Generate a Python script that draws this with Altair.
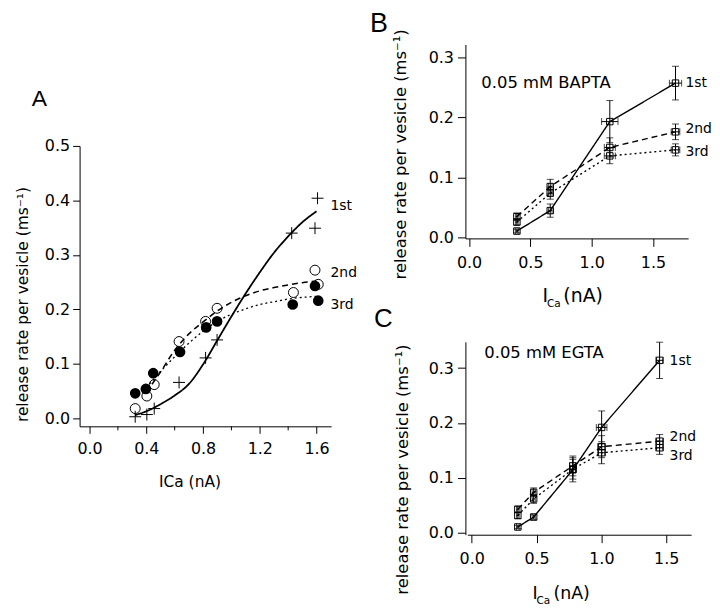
import altair as alt
import pandas as pd

FONT = "DejaVu Sans"
LFONT = "Liberation Sans"
series = ["1st", "2nd", "3rd"]

# ---------------- Panel A data ----------------
a_x1 = [0.322, 0.404, 0.456, 0.631, 0.818, 0.899, 1.425, 1.607, 1.589]
a_y1 = [0.003, 0.007, 0.018, 0.066, 0.111, 0.144, 0.340, 0.404, 0.349]
a_x2 = [0.322, 0.404, 0.456, 0.631, 0.818, 0.899, 1.437, 1.589, 1.612]
a_y2 = [0.018, 0.041, 0.062, 0.141, 0.178, 0.202, 0.231, 0.272, 0.246]
a_x3 = [0.322, 0.397, 0.449, 0.638, 0.822, 0.899, 1.432, 1.589, 1.612]
a_y3 = [0.046, 0.054, 0.083, 0.122, 0.167, 0.178, 0.209, 0.243, 0.216]
a_fit_x1 = [0.32, 0.40, 0.50, 0.60, 0.70, 0.80, 0.90, 1.00, 1.10, 1.20, 1.30, 1.40, 1.50, 1.60]
a_fit_y1 = [0.006, 0.013, 0.026, 0.042, 0.063, 0.099, 0.143, 0.187, 0.229, 0.268, 0.304, 0.334, 0.360, 0.380]
a_fit_x23 = [0.40, 0.50, 0.60, 0.70, 0.80, 0.90, 1.00, 1.10, 1.20, 1.30, 1.40, 1.50, 1.60]
a_fit_y2 = [0.048, 0.085, 0.125, 0.155, 0.177, 0.197, 0.213, 0.225, 0.234, 0.240, 0.245, 0.249, 0.252]
a_fit_y3 = [0.056, 0.086, 0.113, 0.138, 0.160, 0.178, 0.191, 0.201, 0.209, 0.214, 0.219, 0.222, 0.224]
a_label_y = [0.389, 0.266, 0.208]
a_x_ticks = [0.0, 0.4, 0.8, 1.2, 1.6]
a_x_minor = [0.2, 0.6, 1.0, 1.4]
a_y_ticks = [0.0, 0.1, 0.2, 0.3, 0.4, 0.5]

# ---------------- Panel B data (0.05 mM BAPTA) ----------------
b_x = [0.390, 0.662, 1.148, 1.684]
b_y = {"1st": [0.011, 0.045, 0.193, 0.257],
       "2nd": [0.035, 0.085, 0.150, 0.176],
       "3rd": [0.026, 0.074, 0.136, 0.146]}
b_ey = {"1st": [0.003, 0.011, 0.035, 0.028],
        "2nd": [0.006, 0.012, 0.016, 0.013],
        "3rd": [0.005, 0.010, 0.013, 0.010]}
b_ex = {"1st": [0.010, 0.015, 0.067, 0.050],
        "2nd": [0.010, 0.015, 0.045, 0.035],
        "3rd": [0.010, 0.015, 0.045, 0.035]}
b_label_y = [0.257, 0.181, 0.143]
b_x_ticks = [0.0, 0.5, 1.0, 1.5]
b_y_ticks = [0.0, 0.1, 0.2, 0.3]

# ---------------- Panel C data (0.05 mM EGTA) ----------------
c_x = [0.356, 0.478, 0.780, 1.002, 1.449]
c_y = {"1st": [0.011, 0.029, 0.115, 0.192, 0.314],
       "2nd": [0.043, 0.074, 0.122, 0.157, 0.167],
       "3rd": [0.032, 0.062, 0.116, 0.146, 0.155]}
c_ey = {"1st": [0.003, 0.004, 0.022, 0.030, 0.033],
        "2nd": [0.006, 0.008, 0.018, 0.020, 0.012],
        "3rd": [0.006, 0.008, 0.018, 0.020, 0.012]}
c_ex = {"1st": [0.010, 0.012, 0.020, 0.041, 0.028],
        "2nd": [0.010, 0.012, 0.025, 0.030, 0.030],
        "3rd": [0.010, 0.012, 0.025, 0.030, 0.030]}
c_label_y = [0.313, 0.174, 0.140]
c_x_ticks = [0.0, 0.5, 1.0, 1.5]
c_y_ticks = [0.0, 0.1, 0.2, 0.3]

YTITLE = "release rate per vesicle (ms\u207b\u00b9)"

AX = dict(grid=False, domainColor="black", tickColor="black", labelColor="black",
          titleColor="black", labelFont=FONT, titleFont=FONT, titleFontWeight="normal",
          domainWidth=1, tickWidth=1)

one = pd.DataFrame({"k": [0]})
dash_scale = alt.Scale(domain=series, range=[[1, 0], [6, 4], [2, 3]])


def sc(dom, rng):
    return alt.Scale(domain=dom, range=rng, nice=False, zero=False)


def text_at(txt, x, y, size, font=FONT, align="left", baseline="alphabetic"):
    return alt.Chart(one).mark_text(text=txt, font=font, fontSize=size, align=align,
                                    baseline=baseline, color="black").encode(
        x=alt.value(x), y=alt.value(y))


# ================= Panel A =================
A_W, A_H = 253, 195          # layout box; the axes are drawn down to y=384
xsA = sc([-0.070, 1.703], [0, 253])
ysA = sc([-0.0146, 0.5], [384, 102])
axAx = alt.Axis(values=a_x_ticks, format=".1f", tickSize=7, labelPadding=7, labelFontSize=16,
                offset=189,
                title="ICa (nA)", titleFontSize=15.5, titleX=110.5, titleY=56,
                titleBaseline="middle", titleAlign="center", **AX)
axAy = alt.Axis(values=a_y_ticks, format=".1f", tickSize=7, labelPadding=3, labelFontSize=16,
                title=YTITLE, titleFontSize=15.5, titleAngle=270, titleX=-57, titleY=261,
                titleAlign="center", titleBaseline="middle", **AX)


def XA(f):
    return alt.X(f"{f}:Q", scale=xsA, axis=axAx)


def YA(f):
    return alt.Y(f"{f}:Q", scale=ysA, axis=axAy)


fitA = pd.concat([
    pd.DataFrame({"x": a_fit_x1, "y": a_fit_y1, "s": "1st"}),
    pd.DataFrame({"x": a_fit_x23, "y": a_fit_y2, "s": "2nd"}),
    pd.DataFrame({"x": a_fit_x23, "y": a_fit_y3, "s": "3rd"}),
])
linesA = alt.Chart(fitA).mark_line(color="black", interpolate="monotone").encode(
    x=XA("x"), y=YA("y"), detail="s:N",
    strokeDash=alt.StrokeDash("s:N", scale=dash_scale, legend=None),
    strokeWidth=alt.StrokeWidth("s:N", scale=alt.Scale(domain=series, range=[1.8, 1.3, 1.5]), legend=None),
)
crossA = alt.Chart(pd.DataFrame({"x": a_x1, "y": a_y1})).mark_point(
    shape="M-1,0L1,0M0,-1L0,1", size=144, strokeWidth=1, color="black", filled=False, opacity=1
).encode(x=XA("x"), y=YA("y"))
openA = alt.Chart(pd.DataFrame({"x": a_x2, "y": a_y2})).mark_point(
    shape="circle", size=100, strokeWidth=1, color="black", filled=False, opacity=1
).encode(x=XA("x"), y=YA("y"))
fillA = alt.Chart(pd.DataFrame({"x": a_x3, "y": a_y3})).mark_point(
    shape="circle", size=115, color="black", filled=True, opacity=1
).encode(x=XA("x"), y=YA("y"))
minorA = alt.Chart(pd.DataFrame({"m": a_x_minor})).mark_rule(color="black", strokeWidth=1).encode(
    x=XA("m"), y=alt.value(384), y2=alt.value(388))
labA = alt.Chart(pd.DataFrame({"t": series, "y": a_label_y, "x": [1.6] * 3})).mark_text(
    align="left", baseline="middle", dx=14, fontSize=14, font=FONT, color="black"
).encode(x=XA("x"), y=YA("y"), text="t:N")
anchor = alt.Chart(one).mark_rule(strokeOpacity=0, strokeWidth=0).encode(
    x=alt.value(-72), x2=alt.value(-71), y=alt.value(-35), y2=alt.value(-34))

panelA = alt.layer(
    linesA, crossA, openA, fillA, minorA, labA,
    text_at("A", -48, 62, 23, font=LFONT), anchor
).properties(width=A_W, height=A_H)


# ================= Panels B & C =================
def panel(xv, ys, eys, exs, label_y, xdom, xrng, ydom, height, xticks, yticks,
          ytx, yty, lx, lsize, letter, letter_pos, letter_size, note, note_pos, tpos, tsize):
    rows = []
    for s in series:
        for i, xx in enumerate(xv):
            rows.append({"s": s, "x": xx, "y": ys[s][i], "ey": eys[s][i], "ex": exs[s][i]})
    df = pd.DataFrame(rows)
    xs = sc(xdom, xrng)
    ysc = sc(ydom, [height, 0])
    axx = alt.Axis(values=xticks, format=".1f", tickSize=8, labelPadding=8, labelFontSize=16,
                   title=None, **AX)
    axy = alt.Axis(values=yticks, format=".1f", tickSize=8, labelPadding=4, labelFontSize=16,
                   title=YTITLE, titleFontSize=16.5, titleAngle=270, titleX=ytx, titleY=yty,
                   titleAlign="center", titleBaseline="middle", **AX)

    def X(f):
        return alt.X(f"{f}:Q", scale=xs, axis=axx)

    def Y(f):
        return alt.Y(f"{f}:Q", scale=ysc, axis=axy)

    base = alt.Chart(df).transform_calculate(
        ylo="datum.y - datum.ey", yhi="datum.y + datum.ey",
        xlo="datum.x - datum.ex", xhi="datum.x + datum.ex")
    lines = base.mark_line(color="black", strokeWidth=1.4).encode(
        x=X("x"), y=Y("y"), detail="s:N",
        strokeDash=alt.StrokeDash("s:N", scale=alt.Scale(domain=series, range=[[1, 0], [6, 4], [2, 2.5]]), legend=None))
    yerr = base.mark_rule(color="black", strokeWidth=1).encode(x=X("x"), y=Y("ylo"), y2="yhi:Q")
    ycap1 = base.mark_tick(color="black", orient="horizontal", size=7, thickness=1).encode(x=X("x"), y=Y("ylo"))
    ycap2 = base.mark_tick(color="black", orient="horizontal", size=7, thickness=1).encode(x=X("x"), y=Y("yhi"))
    xerr = base.mark_rule(color="black", strokeWidth=1).encode(y=Y("y"), x=X("xlo"), x2="xhi:Q")
    xcap1 = base.mark_tick(color="black", orient="vertical", size=7, thickness=1).encode(x=X("xlo"), y=Y("y"))
    xcap2 = base.mark_tick(color="black", orient="vertical", size=7, thickness=1).encode(x=X("xhi"), y=Y("y"))
    sq = base.mark_point(shape="square", size=42, filled=False, color="black", strokeWidth=1, opacity=1).encode(
        x=X("x"), y=Y("y"))
    labs = alt.Chart(pd.DataFrame({"t": series, "y": label_y, "x": [xv[-1]] * 3})).mark_text(
        align="left", baseline="middle", dx=lx, fontSize=lsize, font=FONT, color="black"
    ).encode(x=X("x"), y=Y("y"), text="t:N")
    return alt.layer(
        lines, yerr, ycap1, ycap2, xerr, xcap1, xcap2, sq, labs,
        text_at(letter, letter_pos[0], letter_pos[1], letter_size, font=LFONT),
        text_at(note, note_pos[0], note_pos[1], 16.5, baseline="middle"),
        text_at("I", tpos[0], tpos[2], tsize),
        text_at("Ca", tpos[1], tpos[2] + 5, 10.5),
        text_at("(nA)", tpos[3], tpos[2], tsize),
    ).properties(width=227, height=height)


panelB = panel(b_x, b_y, b_ey, b_ex, b_label_y, [-0.030, 1.787], [0, 224], [-0.0012, 0.3212], 195,
               b_x_ticks, b_y_ticks, -65, 110, 10, 14, "B", (-96, -13), 27,
               "0.05 mM BAPTA", (16, 38.7), (77.5, 82, 259, 98.5), 19)
panelC = panel(c_x, c_y, c_ey, c_ex, c_label_y, [-0.033, 1.692], [2, 227], [-0.0031, 0.3477], 194,
               c_x_ticks, c_y_ticks, -63, 128, 10, 14, "C", (-92, -15), 26,
               "0.05 mM EGTA", (19, 11.3), (67.5, 71.5, 259, 88.5), 17.5)

blank = alt.Chart(one).mark_text(text="").encode(
    x=alt.value(0), y=alt.value(0)).properties(width=253, height=194)

chart = alt.concat(
    panelA, panelB, blank, panelC, columns=2,
    spacing=alt.RowColnumber(row=104, column=135), bounds="flush"
).properties(padding=0, background="white").configure_view(strokeWidth=0)

chart.save("out.html", embed_options={"renderer": "svg", "actions": False})
